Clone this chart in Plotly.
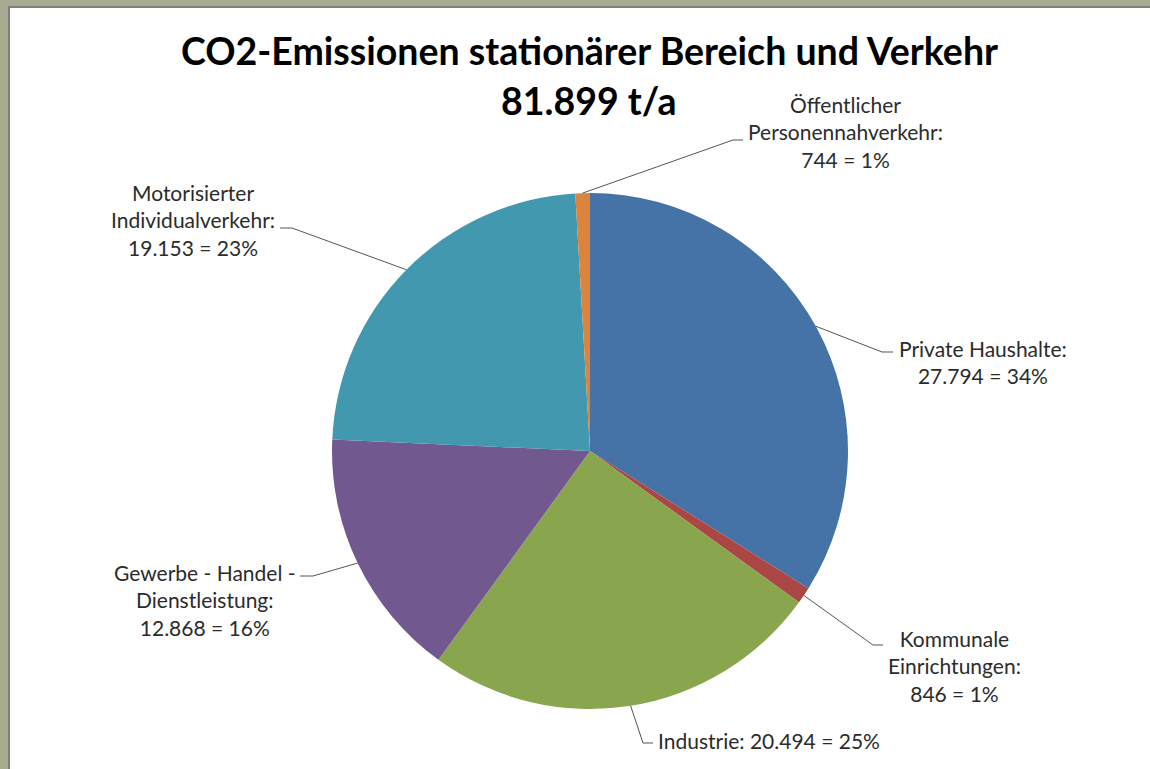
import math
import plotly.graph_objects as go

# data
sectors = ["Private Haushalte:", "Kommunale<br>Einrichtungen:", "Industrie:",
           "Gewerbe - Handel -<br>Dienstleistung:", "Motorisierter<br>Individualverkehr:",
           "Öffentlicher<br>Personennahverkehr:"]
emissions = [27794, 846, 20494, 12868, 19153, 744]
colors = ["#4572A7", "#AA4643", "#89A54E", "#71588F", "#4198AF", "#DB843D"]

W, H = 1150, 769
cx, cy, r = 590, 451, 258  # pie centre / radius in px

# label layout: (separator, elbow x, elbow y, horizontal end x, text x, text y, anchor)
label_style = [
    ("<br>", 882, 352, 893, 897, 362, "left"),
    ("<br>", 873, 645, 883, 886, 666, "left"),
    (" ", 643, 743, 653, 656, 740, "left"),
    ("<br>", 313, 576, 300, 298, 600, "right"),
    ("<br>", 292, 228, 280, 277, 220, "right"),
    ("<br>", 733, 140, 743, 746, 132, "left"),
]


def px(x, y):
    return x / W, 1 - y / H


def de_num(v):
    return f"{v:,}".replace(",", ".")


total = sum(emissions)

fig = go.Figure(go.Pie(
    labels=[s.replace("<br>", " ") for s in sectors],
    values=emissions,
    marker=dict(colors=colors, line=dict(width=0)),
    sort=False,
    direction="clockwise",
    rotation=0,
    textinfo="none",
    showlegend=False,
    domain=dict(x=[(cx - r) / W, (cx + r) / W], y=[(H - cy - r) / H, (H - cy + r) / H]),
))

shapes = []
annotations = []

# frame like the original slide background
shapes.append(dict(type="rect", xref="paper", yref="paper", x0=0, x1=9 / W, y0=0, y1=1,
                   fillcolor="#a7a990", line=dict(width=0)))
shapes.append(dict(type="rect", xref="paper", yref="paper", x0=0, x1=1, y0=1 - 6 / H, y1=1,
                   fillcolor="#a7a990", line=dict(width=0)))
shapes.append(dict(type="line", xref="paper", yref="paper", x0=9 / W, x1=9 / W, y0=0, y1=1 - 6 / H,
                   line=dict(color="#808078", width=2)))
shapes.append(dict(type="line", xref="paper", yref="paper", x0=9 / W, x1=1, y0=1 - 7 / H, y1=1 - 7 / H,
                   line=dict(color="#808078", width=2)))

cum = 0
for name, val, st in zip(sectors, emissions, label_style):
    sep, ex, ey, hx, tx, ty, anchor = st
    mid = (cum + val / 2) / total * 2 * math.pi
    cum += val
    sx = cx + r * math.sin(mid)
    sy = cy - r * math.cos(mid)
    p0 = px(sx, sy)
    p1 = px(ex, ey)
    p2 = px(hx, ey)
    shapes.append(dict(type="path", xref="paper", yref="paper",
                       path=f"M {p0[0]},{p0[1]} L {p1[0]},{p1[1]} L {p2[0]},{p2[1]}",
                       line=dict(color="#555555", width=1)))
    pct = round(val / total * 100)
    tpos = px(tx, ty)
    annotations.append(dict(
        text=f"{name}{sep}{de_num(val)} = {pct}%",
        x=tpos[0], y=tpos[1], xref="paper", yref="paper",
        xanchor=anchor, yanchor="middle", align="center", showarrow=False,
        font=dict(family="Lato", size=21, color="#2b2b2b"),
    ))

annotations.append(dict(
    text="<b>CO2-Emissionen stationärer Bereich und Verkehr</b>",
    x=589 / W, y=1 - 51 / H, xref="paper", yref="paper", xanchor="center", yanchor="middle",
    showarrow=False, font=dict(family="Lato", size=37.5, color="#000000"),
))
annotations.append(dict(
    text=f"<b>{de_num(total)} t/a</b>",
    x=589 / W, y=1 - 101 / H, xref="paper", yref="paper", xanchor="center", yanchor="middle",
    showarrow=False, font=dict(family="Lato", size=37.5, color="#000000"),
))

fig.update_layout(
    width=W, height=H,
    margin=dict(l=0, r=0, t=0, b=0),
    paper_bgcolor="white",
    plot_bgcolor="white",
    shapes=shapes,
    annotations=annotations,
)

fig.write_html("out.html", config={"displayModeBar": False},
               post_script="document.body.style.margin='0';document.body.style.overflow='hidden';")
